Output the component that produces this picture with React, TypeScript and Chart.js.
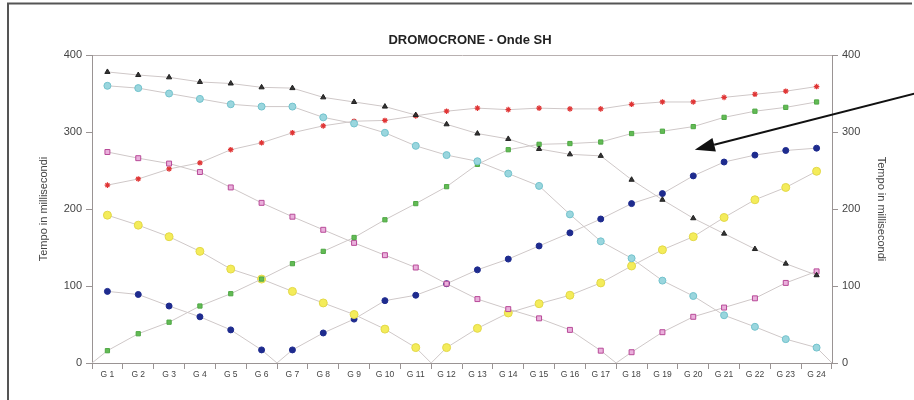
import React, { useEffect, useRef } from "react";
import { Chart, registerables } from "chart.js";

Chart.register(...registerables);

const chartTitle = "DROMOCRONE - Onde SH";
const axisTitle = "Tempo in millisecondi";
const categories = [
  "G 1", "G 2", "G 3", "G 4", "G 5", "G 6", "G 7", "G 8", "G 9", "G 10", "G 11", "G 12",
  "G 13", "G 14", "G 15", "G 16", "G 17", "G 18", "G 19", "G 20", "G 21", "G 22", "G 23", "G 24",
];
const yTicks = [0, 100, 200, 300, 400];

const blackSeries = [378, 374, 371, 365, 363, 358, 357, 345, 339, 333, 322, 310, 298, 291, 278, 271, 269, 238, 212, 188, 168, 148, 129, 114];
const cyanSeries = [360, 357, 350, 343, 336, 333, 333, 319, 311, 299, 282, 270, 262, 246, 230, 193, 158, 136, 107, 87, 62, 47, 31, 20];
const redSeries = [231, 239, 252, 260, 277, 286, 299, 308, 314, 315, 321, 327, 331, 329, 331, 330, 330, 336, 339, 339, 345, 349, 353, 359];
const greenSeries = [16, 38, 53, 74, 90, 109, 129, 145, 163, 186, 207, 229, 258, 277, 284, 285, 287, 298, 301, 307, 319, 327, 332, 339];
const magentaSeries = [274, 266, 259, 248, 228, 208, 190, 173, 156, 140, 124, 103, 83, 70, 58, 43, 16, 14, 40, 60, 72, 84, 104, 119];
const yellowSeries = [192, 179, 164, 145, 122, 109, 93, 78, 63, 44, 20, 20, 45, 65, 77, 88, 104, 126, 147, 164, 189, 212, 228, 249];
const blueSeries = [93, 89, 74, 60, 43, 17, 17, 39, 57, 81, 88, 103, 121, 135, 152, 169, 187, 207, 220, 243, 261, 270, 276, 279];

// positions (in category units) where a series reaches zero between geophones
const greenZeroAt = 0.5;
const blueZeroAt = 6.5;
const yellowZeroAt = 11.5;
const magentaZeroAt = 17.5;
const cyanZeroAt = 24.5;

// arrow annotation, in data units [category position, ms]
const arrowFrom = [27.2, 350];
const arrowTo = [20.05, 277];

const FONT = "'Liberation Sans', Arial, sans-serif";

type Pt = { x: number; y: number; zero?: boolean };

function buildPoints(values: number[], zeroAt?: number): Pt[] {
  const pts: Pt[] = values.map((v, i) => ({ x: i + 1, y: v }));
  if (zeroAt !== undefined) pts.push({ x: zeroAt, y: 0, zero: true });
  pts.sort((a, b) => a.x - b.x);
  return pts;
}

function makeDataset(
  values: number[],
  zeroAt: number | undefined,
  style: string,
  radius: number,
  fill: string,
  border: string,
  bw: number
) {
  return {
    data: buildPoints(values, zeroAt),
    borderColor: "#cfc8c8",
    borderWidth: 1,
    tension: 0,
    pointStyle: style,
    pointRadius: (ctx: any) => (ctx.raw && ctx.raw.zero ? 0 : radius),
    pointBackgroundColor: fill,
    pointBorderColor: border,
    pointBorderWidth: bw,
    yAxisID: "y",
    xAxisID: "x",
  };
}

const decorPlugin = {
  id: "decor",
  afterDraw(chart: any) {
    const ctx = chart.ctx;
    const xs = chart.scales.x;
    const ys = chart.scales.y;
    const area = chart.chartArea;
    ctx.save();
    // frame
    ctx.strokeStyle = "#555";
    ctx.lineWidth = 2;
    ctx.beginPath();
    ctx.moveTo(8, 400);
    ctx.lineTo(8, 3.5);
    ctx.lineTo(912, 3.5);
    ctx.stroke();
    // title
    ctx.fillStyle = "#222";
    ctx.font = `bold 13px ${FONT}`;
    ctx.textAlign = "center";
    ctx.textBaseline = "middle";
    ctx.fillText(chartTitle, (area.left + area.right) / 2 + 8, area.top - 15);
    // arrow
    const x1 = xs.getPixelForValue(arrowFrom[0]);
    const y1 = ys.getPixelForValue(arrowFrom[1]);
    const x2 = xs.getPixelForValue(arrowTo[0]);
    const y2 = ys.getPixelForValue(arrowTo[1]);
    const ang = Math.atan2(y2 - y1, x2 - x1);
    const headLen = 20;
    const headHalf = 7;
    const bx = x2 - headLen * Math.cos(ang);
    const by = y2 - headLen * Math.sin(ang);
    ctx.strokeStyle = "#111";
    ctx.lineWidth = 2;
    ctx.beginPath();
    ctx.moveTo(x1, y1);
    ctx.lineTo(bx, by);
    ctx.stroke();
    ctx.fillStyle = "#111";
    ctx.beginPath();
    ctx.moveTo(x2, y2);
    ctx.lineTo(bx + headHalf * Math.sin(ang), by - headHalf * Math.cos(ang));
    ctx.lineTo(bx - headHalf * Math.sin(ang), by + headHalf * Math.cos(ang));
    ctx.closePath();
    ctx.fill();
    ctx.restore();
  },
};

export default function App() {
  const ref = useRef<HTMLCanvasElement | null>(null);

  useEffect(() => {
    if (!ref.current) return;
    const tickFont = { family: FONT, size: 11 };
    const chart = new Chart(ref.current, {
      type: "line",
      data: {
        datasets: [
          makeDataset(blackSeries, undefined, "triangle", 3, "#333333", "#222222", 1),
          makeDataset(cyanSeries, cyanZeroAt, "circle", 3.5, "#9ad6de", "#72c2cc", 1),
          makeDataset(redSeries, undefined, "star", 2.8, "#e03535", "#e03535", 1.2),
          makeDataset(greenSeries, greenZeroAt, "rect", 3, "#63bb55", "#4fa845", 1),
          makeDataset(magentaSeries, magentaZeroAt, "rect", 3.5, "#eab0dc", "#b84a98", 1),
          makeDataset(yellowSeries, yellowZeroAt, "circle", 4, "#f4ec5a", "#e2d848", 1),
          makeDataset(blueSeries, blueZeroAt, "circle", 3, "#1e2b8e", "#1e2b8e", 1),
        ] as any,
      },
      options: {
        responsive: false,
        animation: false,
        devicePixelRatio: 1,
        layout: { padding: { top: 55, left: 0, right: 0, bottom: 0 } },
        plugins: {
          legend: { display: false },
          tooltip: { enabled: false },
          title: { display: false },
        },
        scales: {
          x: {
            type: "linear",
            min: 0.5,
            max: 24.5,
            afterBuildTicks: (s: any) => {
              s.ticks = categories.map((_, i) => ({ value: i + 1 }));
            },
            afterFit: (s: any) => {
              s.height = 37;
            },
            ticks: {
              autoSkip: false,
              maxRotation: 0,
              minRotation: 0,
              padding: 1,
              color: "#444",
              font: { family: FONT, size: 8.5 },
              callback: (v: any) => categories[Math.round(v) - 1],
            },
            grid: {
              drawOnChartArea: false,
              offset: true,
              tickLength: 6,
              color: "#9a9494",
            },
            border: { color: "#9a9494", width: 1 },
          },
          y: {
            type: "linear",
            position: "left",
            min: 0,
            max: 400,
            afterBuildTicks: (s: any) => {
              s.ticks = yTicks.map((v) => ({ value: v }));
            },
            afterFit: (s: any) => {
              s.width = 92;
            },
            ticks: { color: "#444", font: tickFont, padding: 4 },
            grid: {
              color: (c: any) => (c.tick && c.tick.value === 400 ? "#b8b0b0" : "transparent"),
              tickColor: "#9a9494",
              tickLength: 6,
            },
            border: { color: "#9a9494", width: 1 },
            title: {
              display: true,
              text: axisTitle,
              color: "#444",
              font: { family: FONT, size: 11 },
              padding: { top: 37, bottom: 0 },
            },
          },
          y1: {
            type: "linear",
            position: "right",
            min: 0,
            max: 400,
            afterBuildTicks: (s: any) => {
              s.ticks = yTicks.map((v) => ({ value: v }));
            },
            afterFit: (s: any) => {
              s.width = 82;
            },
            ticks: { color: "#444", font: tickFont, padding: 4 },
            grid: {
              drawOnChartArea: false,
              tickColor: "#9a9494",
              color: "#9a9494",
              tickLength: 6,
            },
            border: { color: "#9a9494", width: 1 },
            title: {
              display: true,
              text: axisTitle,
              color: "#444",
              font: { family: FONT, size: 11 },
              padding: { top: 26, bottom: 0 },
            },
          },
        },
      } as any,
      plugins: [decorPlugin],
    });
    return () => chart.destroy();
  }, []);

  return (
    <div style={{ position: "absolute", left: 0, top: 0, width: 914, height: 400, background: "#fff" }}>
      <canvas ref={ref} width={914} height={400} style={{ display: "block", width: 914, height: 400 }} />
    </div>
  );
}
